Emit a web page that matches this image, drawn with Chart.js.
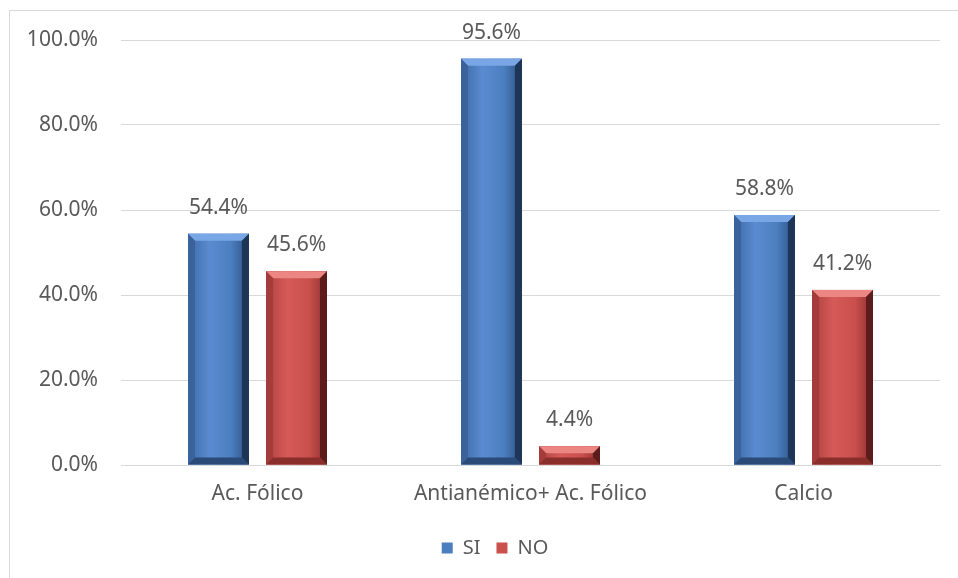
<!DOCTYPE html>
<html>
<head>
<meta charset="utf-8">
<script src="https://cdn.jsdelivr.net/npm/chart.js@4.4.0/dist/chart.umd.min.js"></script>
<style>
  html, body { margin: 0; padding: 0; background: #fff; }
  #wrap { position: relative; width: 958px; height: 578px; overflow: hidden; }
  #frame { position: absolute; left: 9px; top: 10px; width: 1200px; height: 1000px; border: 1px solid #d9d9d9; }
  #myChart { position: absolute; left: 0; top: 0; }
</style>
</head>
<body>
<div id="wrap">
  <div id="frame"></div>
  <canvas id="myChart" width="958" height="578"></canvas>
</div>
<script>
const categorias = ['Ac. Fólico', 'Antianémico+ Ac. Fólico', 'Calcio'];
const valoresSI = [54.4, 95.6, 58.8];
const valoresNO = [45.6, 4.4, 41.2];
const ticksY = [0, 20, 40, 60, 80, 100];

const CHART = document.getElementById("myChart");
const FUENTE = "'Noto Sans', sans-serif";
const GRIS = '#595959';

// relieve tipo Excel sobre cada barra
const bisel = {
    id: 'bisel',
    afterDatasetsDraw(chart) {
        const ctx = chart.ctx;
        chart.data.datasets.forEach((ds, i) => {
            const meta = chart.getDatasetMeta(i);
            const tono = ds.tono;
            meta.data.forEach(el => {
                const x0 = el.x - el.width / 2, x1 = el.x + el.width / 2;
                const y0 = Math.min(el.y, el.base), y1 = Math.max(el.y, el.base);
                const b = Math.min(7, (y1 - y0) / 2);
                ctx.save();
                const g = ctx.createLinearGradient(x0, 0, x1, 0);
                g.addColorStop(0, tono.izq);
                g.addColorStop(0.35, tono.claro);
                g.addColorStop(0.7, tono.medio);
                g.addColorStop(1, tono.der);
                ctx.fillStyle = g;
                ctx.fillRect(x0, y0, x1 - x0, y1 - y0);
                const poly = (pts, color) => {
                    ctx.beginPath();
                    ctx.moveTo(pts[0][0], pts[0][1]);
                    pts.slice(1).forEach(p => ctx.lineTo(p[0], p[1]));
                    ctx.closePath();
                    ctx.fillStyle = color;
                    ctx.fill();
                };
                poly([[x0, y0], [x1, y0], [x1 - b, y0 + b], [x0 + b, y0 + b]], tono.arriba);
                poly([[x0, y0], [x0 + b, y0 + b], [x0 + b, y1 - b], [x0, y1]], tono.lado);
                poly([[x1, y0], [x1, y1], [x1 - b, y1 - b], [x1 - b, y0 + b]], tono.sombra);
                poly([[x0, y1], [x0 + b, y1 - b], [x1 - b, y1 - b], [x1, y1]], tono.abajo);
                ctx.restore();
            });
        });
    }
};

const etiquetas = {
    id: 'etiquetas',
    afterDatasetsDraw(chart) {
        const ctx = chart.ctx;
        ctx.save();
        ctx.font = '21px ' + FUENTE;
        ctx.fillStyle = GRIS;
        ctx.textAlign = 'center';
        ctx.textBaseline = 'middle';
        chart.data.datasets.forEach((ds, i) => {
            chart.getDatasetMeta(i).data.forEach((el, j) => {
                ctx.fillText(ds.data[j].toFixed(1) + '%', el.x, el.y - 26);
            });
        });
        ctx.restore();
    }
};

// la leyenda del original queda algo a la derecha del centro
const moverLeyenda = {
    id: 'moverLeyenda',
    afterLayout(chart) {
        chart.legend.left += 15;
        chart.legend.right += 15;
    }
};

const myChart = new Chart(CHART, {
    type: 'bar',
    data: {
        labels: categorias,
        datasets: [{
            label: 'SI',
            data: valoresSI,
            backgroundColor: '#4a7ebf',
            tono: { izq: '#3d6aa6', claro: '#5a8bd0', medio: '#4c7fc0', der: '#2c4f80',
                    arriba: '#79a6e4', lado: '#3a639c', sombra: '#1d3556', abajo: '#2a4a78' }
        }, {
            label: 'NO',
            data: valoresNO,
            backgroundColor: '#c9504d',
            tono: { izq: '#ad4240', claro: '#d55a58', medio: '#c9504d', der: '#8c302e',
                    arriba: '#ec8683', lado: '#a33c3a', sombra: '#5c1c1b', abajo: '#8a2e2c' }
        }]
    },
    options: {
        responsive: false,
        animation: false,
        layout: { padding: { left: 20, right: 18, top: 40, bottom: 10 } },
        categoryPercentage: 0.572,
        barPercentage: 0.78,
        scales: {
            x: {
                grid: { display: false },
                border: { color: '#d9d9d9' },
                ticks: { color: GRIS, font: { family: FUENTE, size: 21 }, padding: 8, maxRotation: 0 },
                afterFit(scale) { scale.height = 57; }
            },
            y: {
                min: 0,
                max: 100,
                afterBuildTicks(scale) { scale.ticks = ticksY.map(v => ({ value: v })); },
                grid: { color: '#d9d9d9', drawTicks: false },
                border: { display: false },
                ticks: {
                    color: GRIS,
                    font: { family: FUENTE, size: 21 },
                    padding: 23,
                    callback: v => v.toFixed(1) + '%'
                },
                afterFit(scale) { scale.width = 101; }
            }
        },
        plugins: {
            legend: {
                position: 'bottom',
                labels: {
                    color: GRIS,
                    font: { family: FUENTE, size: 20 },
                    boxWidth: 11,
                    boxHeight: 11,
                    padding: 16
                }
            },
            tooltip: { enabled: false }
        }
    },
    plugins: [bisel, etiquetas, moverLeyenda]
});
</script>
</body>
</html>
